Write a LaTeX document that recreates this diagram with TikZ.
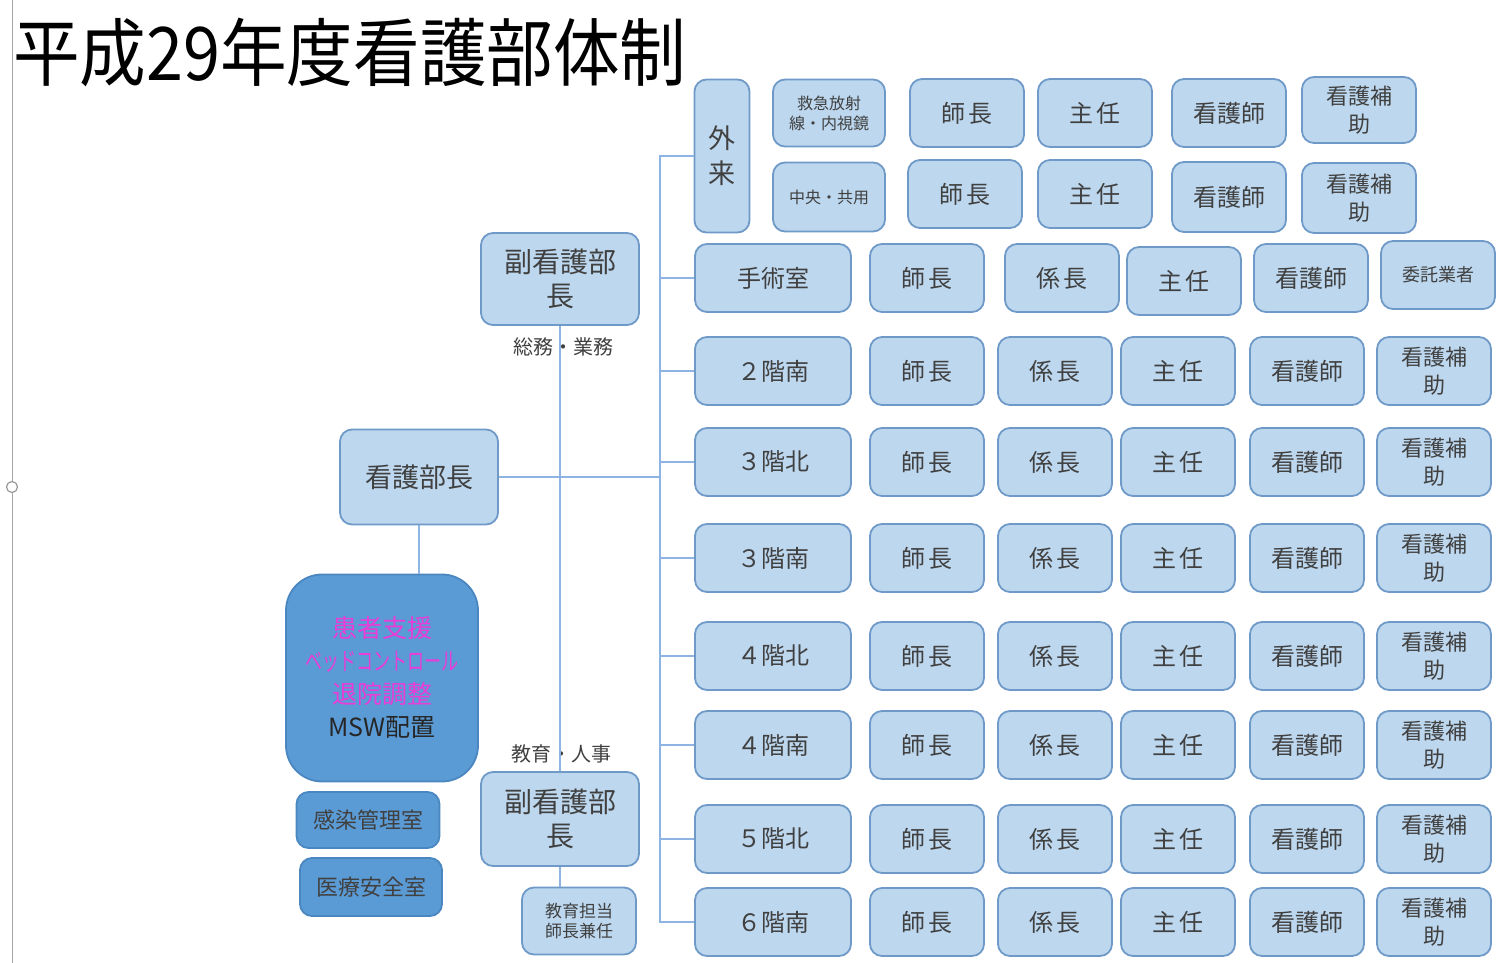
\documentclass[tikz,border=0pt]{standalone}
\usepackage{fontspec}
\setmainfont{Noto Sans CJK JP}
\usepackage{tikz}

\definecolor{boxfill}{HTML}{BDD7EE}
\definecolor{boxline}{HTML}{6F9AC8}
\definecolor{linkline}{HTML}{8EB4E3}
\definecolor{darkfill}{HTML}{5B9BD5}
\definecolor{darkline}{HTML}{4A86C0}
\definecolor{pinktext}{HTML}{E93CD8}
\definecolor{celltext}{HTML}{404040}

\newcommand{\fsz}[2]{\fontsize{#1pt}{#2pt}\selectfont}

\begin{document}
\begin{tikzpicture}[
    x=1pt, y=-1pt,
    cell/.style={draw=boxline, fill=boxfill, line width=1.8pt, rounded corners=12pt, align=center, inner sep=0pt, text=celltext, font=\fsz{24}{28}},
    ward/.style={cell, minimum width=156pt, minimum height=68pt},
    post/.style={cell, minimum width=114pt, minimum height=68pt},
    dark/.style={cell, draw=darkline, fill=darkfill},
    link/.style={draw=linkline, line width=1.6pt},
    note/.style={inner sep=0pt, text=celltext, font=\fsz{20}{24}}
    ]
    \useasboundingbox (0,0) rectangle (1510,963);

    % 見出し
    \draw[gray!70, line width=1pt] (12,0) -- (12,963);
    \node[circle, draw=gray!80, fill=white, line width=1.2pt, minimum size=11pt, inner sep=0pt] (handle) at (12,487) {};
    \node[anchor=west, inner sep=0pt, font=\fsz{74}{80}] (title) at (13,52) {\scalebox{0.9}[1]{平成29年度看護部体制}};

    % 左側
    \node[cell, minimum width=158pt, minimum height=92pt, font=\fsz{28}{34}] (fuku1) at (560,279) {副看護部\\長};
    \node[note] (somu) at (563,347) {総務・業務};
    \node[cell, minimum width=158pt, minimum height=95pt, font=\fsz{27}{32}] (bucho) at (419,477) {看護部長};
    \node[dark, minimum width=192pt, minimum height=207pt, rounded corners=36pt, font=\fsz{25}{33}] (kanja) at (382,678)
        {\textcolor{pinktext}{患者支援}\\\textcolor{pinktext}{\scalebox{0.68}[1]{ベッドコントロール}}\\\textcolor{pinktext}{退院調整}\\\textcolor{black!85}{MSW配置}};
    \node[dark, minimum width=143pt, minimum height=56pt, font=\fsz{22}{26}] (kansen) at (368,820) {感染管理室};
    \node[dark, minimum width=142pt, minimum height=58pt, font=\fsz{22}{26}] (anzen) at (371,887) {医療安全室};
    \node[note] (jinji) at (561,754) {教育・人事};
    \node[cell, minimum width=158pt, minimum height=94pt, font=\fsz{28}{34}] (fuku2) at (560,819) {副看護部\\長};
    \node[cell, minimum width=114pt, minimum height=67pt, font=\fsz{17}{20}] (kyoiku) at (579,921) {教育担当\\師長兼任};

    % 外来
    \node[cell, minimum width=55pt, minimum height=153pt, font=\fsz{27}{35}] (gairai) at (722,156) {外\\来};
    \node[post, minimum width=112pt, minimum height=67pt, font=\fsz{16}{20}] (kyukyu) at (829,113) {救急放射\\線・内視鏡};
    \node[post] (kyukyu-shicho) at (967,113) {師\,長};
    \node[post] (kyukyu-shunin) at (1095,113) {主\,任};
    \node[post] (kyukyu-kango) at (1229,113) {看護師};
    \node[post, minimum height=66pt, font=\fsz{22}{28}] (kyukyu-hojo) at (1359,110) {看護補\\助};
    \node[post, minimum width=112pt, minimum height=69pt, font=\fsz{16}{20}] (chuo) at (829,197) {中央・共用};
    \node[post] (chuo-shicho) at (965,194) {師\,長};
    \node[post] (chuo-shunin) at (1095,194) {主\,任};
    \node[post, minimum height=70pt] (chuo-kango) at (1229,197) {看護師};
    \node[post, minimum height=70pt, font=\fsz{22}{28}] (chuo-hojo) at (1359,198) {看護補\\助};

    % 手術室
    \node[ward] (shujutsu) at (773,278) {手術室};
    \node[post] (shujutsu-shicho) at (927,278) {師\,長};
    \node[post] (shujutsu-kakari) at (1062,278) {係\,長};
    \node[post] (shujutsu-shunin) at (1184,281) {主\,任};
    \node[post] (shujutsu-kango) at (1311,278) {看護師};
    \node[post, font=\fsz{18}{22}] (shujutsu-itaku) at (1438,275) {委託業者};

    % 病棟
    \coordinate (trunk) at (660,156);
    \foreach \nm/\lbl/\y in {f2s/２階南/371, f3n/３階北/462, f3s/３階南/558, f4n/４階北/656, f4s/４階南/745, f5n/５階北/839, f6s/６階南/922}{
        \node[ward] (\nm) at (773,\y) {\lbl};
        \node[post] (\nm-shicho) at (927,\y) {師\,長};
        \node[post] (\nm-kakari) at (1055,\y) {係\,長};
        \node[post] (\nm-shunin) at (1178,\y) {主\,任};
        \node[post] (\nm-kango) at (1307,\y) {看護師};
        \node[post, font=\fsz{22}{28}] (\nm-hojo) at (1434,\y) {看護補\\助};
        \draw[link] (\nm.west) -- (\nm.west -| trunk);
    }

    % 線
    \draw[link] (gairai.west) -- (gairai.west -| trunk) |- (f6s.west);
    \draw[link] (shujutsu.west) -- (shujutsu.west -| trunk);
    \draw[link] (bucho.east) -- (bucho.east -| trunk);
    \draw[link] (fuku1.south) -- (fuku2.north);
    \draw[link] (fuku2.south) -- (fuku2.south |- kyoiku.north);
    \draw[link] (bucho.south) -- (bucho.south |- kanja.north);

\end{tikzpicture}
\end{document}
